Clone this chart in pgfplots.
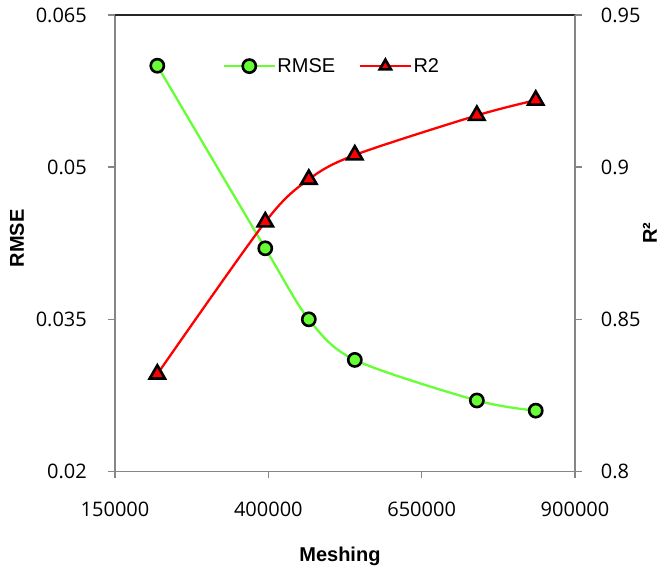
\documentclass[border=0pt]{standalone}
\usepackage{pgfplots}
\usepackage{pgfplotstable}
\pgfplotsset{compat=1.18}
\usepackage{fontspec}
\setmainfont{Liberation Sans}
\newfontfamily\tickfont{Open Sans}

\definecolor{rmsegreen}{RGB}{102,255,51}
\definecolor{axisgrey}{RGB}{134,134,134}

% mesh size vs. error of the model
\pgfplotstableread{
x rmse
219000 0.0600
395000 0.0420
466000 0.0350
541000 0.0310
740000 0.0270
836000 0.0260
}\rmsedata
\pgfplotstableread{
x r2
219000 0.832
395000 0.882
466000 0.896
541000 0.904
740000 0.917
836000 0.922
}\rtwodata

\pgfplotsset{
  base/.style={
    scale only axis, width=460pt, height=456.5pt,
    at={(0pt,0pt)}, anchor=south west,
    xmin=150000, xmax=900000,
    scaled ticks=false,
    tick align=outside,
    major tick length=7pt,
    every tick/.style={axisgrey, line width=1.5pt},
    axis line style={axisgrey, line width=1.8pt, -},
    ticklabel style={font=\fontsize{20}{24}\tickfont},
    label style={font=\fontsize{20}{24}\selectfont\bfseries},
    clip=false,
  },
  rmse style/.style={color=rmsegreen, line width=2.3pt, smooth, tension=0.5,
    mark=*, mark size=6.6pt,
    mark options={draw=black, fill=rmsegreen, line width=2.6pt}},
  r2 style/.style={color=red, line width=2.3pt, smooth, tension=0.5,
    mark=triangle*, mark size=8.8pt,
    mark options={draw=black, fill=red, line width=2.6pt}},
}

\begin{document}
\begin{tikzpicture}
\path[use as bounding box] (-115pt,-97.5pt) rectangle (547pt,471.5pt);
\begin{axis}[base,
  axis x line*=bottom, axis y line*=left,
  ymin=0.02, ymax=0.065,
  xtick={150000,400000,650000,900000},
  xticklabels={150000,400000,650000,900000},
  ytick={0.02,0.035,0.05,0.065},
  yticklabels={0.02,0.035,0.05,0.065},
  xticklabel style={yshift=-19.6pt},
  yticklabel style={xshift=-17.6pt},
  xlabel={Meshing}, ylabel={RMSE},
  xlabel style={at={(axis description cs:0.489,-0.1976)}, anchor=base},
  ylabel style={at={(axis description cs:-0.213,0.511)}, anchor=center},
]
\draw[black!85, line width=1.2pt] (rel axis cs:0,1) -- (rel axis cs:1,1);
\addplot[rmse style] table[x=x, y=rmse] {\rmsedata};
\end{axis}
\begin{axis}[base,
  axis y line*=right, axis x line=none,
  ymin=0.8, ymax=0.95,
  ytick={0.8,0.85,0.9,0.95},
  yticklabels={0.8,0.85,0.9,0.95},
  yticklabel style={xshift=15.3pt},
  ylabel={R²},
  ylabel style={at={(axis description cs:1.163,0.522)}, anchor=center},
  legend columns=2,
  legend style={at={(0.472,0.888)}, anchor=center, draw=none, fill=none,
    font=\fontsize{20}{24}\selectfont,
    /tikz/every even column/.append style={column sep=22pt}},
  legend image code/.code={%
    \draw[mark repeat=2, mark phase=2] plot coordinates {(0pt,0pt) (25pt,0pt) (50pt,0pt)};},
]
\addlegendimage{rmse style}
\addlegendentry{RMSE}
\addplot[r2 style, legend image post style={mark size=6.5pt}] table[x=x, y=r2] {\rtwodata};
\addlegendentry{R2}
\end{axis}
\end{tikzpicture}
\end{document}
